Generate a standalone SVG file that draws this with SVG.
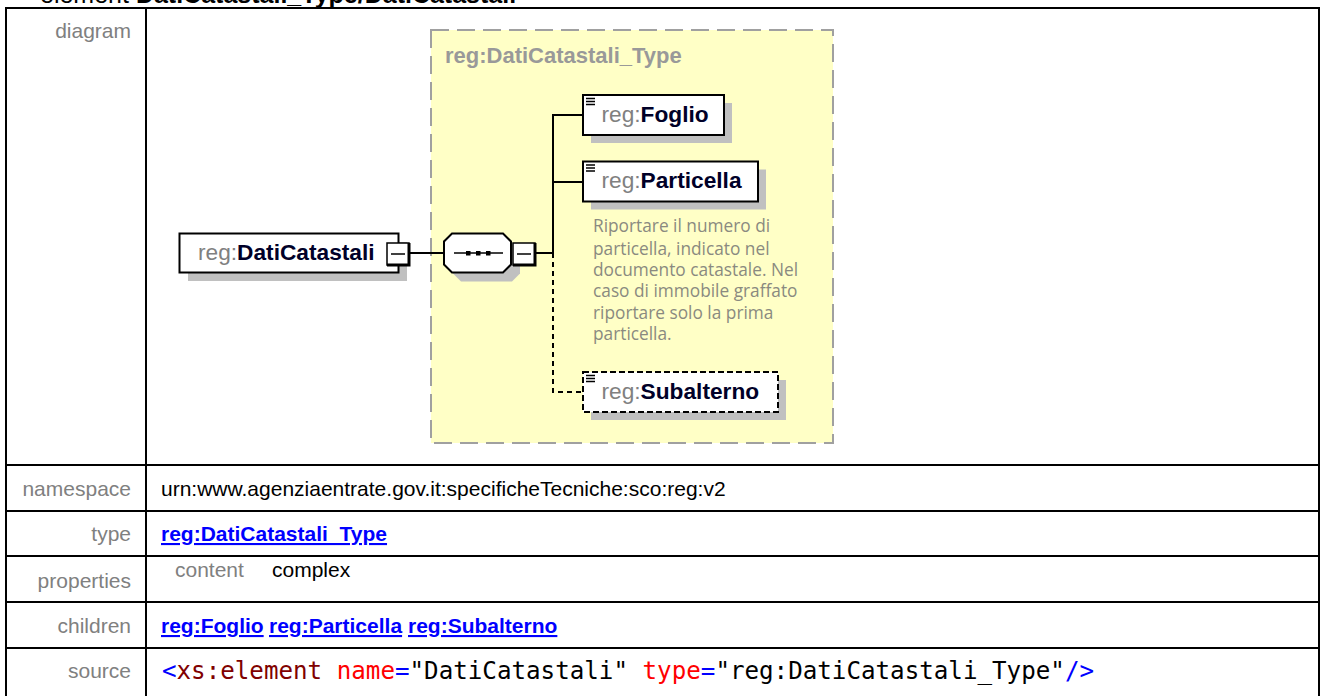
<svg xmlns="http://www.w3.org/2000/svg" width="1321" height="696" viewBox="0 0 1321 696">
<style>
.tbl{fill:none;stroke:#000;stroke-width:2}
.lbl{font-family:"Liberation Sans",Arial,sans-serif;font-size:21px;fill:#808080;text-anchor:end}
.val{font-family:"Liberation Sans",Arial,sans-serif;font-size:21px;fill:#000}
.lnk{font-family:"Liberation Sans",Arial,sans-serif;font-size:21px;font-weight:bold;fill:#0000FF;text-decoration:underline}
.src{font-family:"DejaVu Sans Mono","Liberation Mono",monospace;font-size:24.2px}
.box{fill:#fff;stroke:#000;stroke-width:2}
.shd{fill:#C0C0C0}
.ns{font-family:"Liberation Sans",Arial,sans-serif;font-size:22.7px;fill:#808080}
.nm{font-weight:bold;fill:#000028}
.con{fill:none;stroke:#000;stroke-width:2}
.dash{stroke-dasharray:5 4}
.doc{font-family:"Open Sans","Noto Sans",sans-serif;font-size:17.3px;fill:#8a8a80}
</style>

<!-- title (cut off at top) -->
<text x="40" y="3" font-family="Liberation Sans,Arial,sans-serif" font-size="25" fill="#000">element <tspan font-weight="bold">DatiCatastali_Type/DatiCatastali</tspan></text>

<!-- table -->
<g id="table">
<rect class="tbl" x="6" y="8" width="1313" height="700"/>
<line class="tbl" x1="146" y1="8" x2="146" y2="700"/>
<line class="tbl" x1="6" y1="465" x2="1319" y2="465"/>
<line class="tbl" x1="6" y1="511" x2="1319" y2="511"/>
<line class="tbl" x1="6" y1="556" x2="1319" y2="556"/>
<line class="tbl" x1="6" y1="602" x2="1319" y2="602"/>
<line class="tbl" x1="6" y1="648" x2="1319" y2="648"/>
<text class="lbl" x="131" y="38">diagram</text>
<text class="lbl" x="131" y="496">namespace</text>
<text class="lbl" x="131" y="541">type</text>
<text class="lbl" x="131" y="588">properties</text>
<text class="lbl" x="131" y="633">children</text>
<text class="lbl" x="131" y="678">source</text>
<text class="val" x="161" y="496">urn:www.agenziaentrate.gov.it:specificheTecniche:sco:reg:v2</text>
<text class="lnk" x="161" y="541">reg:DatiCatastali_Type</text>
<text class="val" x="175" y="577" style="fill:#808080">content</text>
<text class="val" x="272" y="577">complex</text>
<text class="lnk" x="161" y="633">reg:Foglio</text>
<text class="lnk" x="269" y="633">reg:Particella</text>
<text class="lnk" x="408" y="633">reg:Subalterno</text>
<text class="src" x="162" y="679"><tspan fill="#0000FF">&lt;</tspan><tspan fill="#800000">xs:element</tspan> <tspan fill="#FF0000">name</tspan><tspan fill="#0000FF">=</tspan><tspan fill="#000">"DatiCatastali"</tspan> <tspan fill="#FF0000">type</tspan><tspan fill="#0000FF">=</tspan><tspan fill="#000">"reg:DatiCatastali_Type"</tspan><tspan fill="#0000FF">/&gt;</tspan></text>
</g>

<!-- complex type container -->
<g id="type-DatiCatastali_Type">
<rect x="431" y="30" width="402" height="413" fill="#FFFFC6" stroke="#A0A0A0" stroke-width="2" stroke-dasharray="18 8"/>
<text x="445" y="63" font-family="Liberation Sans,Arial,sans-serif" font-size="22" font-weight="bold" fill="#999999">reg:DatiCatastali_Type</text>
</g>

<!-- connectors -->
<g id="connectors">
<line class="con" x1="409" y1="253" x2="444" y2="253"/>
<line class="con" x1="535" y1="253" x2="553" y2="253"/>
<polyline class="con" points="583,115 553,115 553,253"/>
<line class="con" x1="553" y1="182" x2="583" y2="182"/>
<polyline class="con dash" points="553,253 553,392 583,392"/>
</g>

<!-- root element -->
<g id="el-DatiCatastali">
<rect class="shd" x="188" y="242" width="219" height="39"/>
<rect class="box" x="179.5" y="233.5" width="219" height="39"/>
<text class="ns" x="198" y="260">reg:<tspan class="nm">DatiCatastali</tspan></text>
<rect x="387" y="243" width="22" height="22" fill="#fff" stroke="#000" stroke-width="1.5"/>
<polyline points="409,243 409,265 387,265" fill="none" stroke="#000" stroke-width="3"/>
<line x1="391" y1="254" x2="405" y2="254" stroke="#000" stroke-width="1.5"/>
</g>

<!-- sequence compositor -->
<g id="seq">
<polygon class="shd" points="461,242.5 512,242.5 520,250.5 520,273.5 512,281.5 461,281.5 453,273.5 453,250.5"/>
<polygon class="box" points="452,233.5 503,233.5 511,241.5 511,264.5 503,272.5 452,272.5 444,264.5 444,241.5"/>
<line x1="454" y1="253" x2="503" y2="253" stroke="#000" stroke-width="1.5"/>
<rect x="466" y="251" width="4.5" height="4.5" fill="#000"/>
<rect x="476" y="251" width="4.5" height="4.5" fill="#000"/>
<rect x="486" y="251" width="4.5" height="4.5" fill="#000"/>
<rect x="513" y="243" width="22" height="22" fill="#fff" stroke="#000" stroke-width="1.5"/>
<polyline points="535,243 535,265 513,265" fill="none" stroke="#000" stroke-width="3"/>
<line x1="517" y1="254" x2="531" y2="254" stroke="#000" stroke-width="1.5"/>
</g>

<!-- Foglio -->
<g id="el-Foglio">
<rect class="shd" x="591" y="103" width="141" height="40"/>
<rect class="box" x="583" y="95" width="141" height="40"/>
<path d="M586 98.5h9M586 101.5h9M586 104.5h9" stroke="#000" stroke-width="1.3"/>
<text class="ns" x="601.5" y="121.5">reg:<tspan class="nm">Foglio</tspan></text>
</g>

<!-- Particella -->
<g id="el-Particella">
<rect class="shd" x="591" y="169.5" width="175" height="40"/>
<rect class="box" x="583" y="161.5" width="175" height="40"/>
<path d="M586 165h9M586 168h9M586 171h9" stroke="#000" stroke-width="1.3"/>
<text class="ns" x="601.5" y="188">reg:<tspan class="nm">Particella</tspan></text>
<text class="doc" x="593" y="231.5">Riportare il numero di</text>
<text class="doc" x="593" y="254.5">particella, indicato nel</text>
<text class="doc" x="593" y="276">documento catastale. Nel</text>
<text class="doc" x="593" y="297">caso di immobile graffato</text>
<text class="doc" x="593" y="319">riportare solo la prima</text>
<text class="doc" x="593" y="340">particella.</text>
</g>

<!-- Subalterno (optional) -->
<g id="el-Subalterno">
<rect class="shd" x="591" y="380" width="195" height="40"/>
<rect class="box" x="583" y="372" width="195" height="40" stroke-dasharray="6 3"/>
<path d="M586 375.5h9M586 378.5h9M586 381.5h9" stroke="#000" stroke-width="1.3"/>
<text class="ns" x="601.5" y="398.5">reg:<tspan class="nm">Subalterno</tspan></text>
</g>
</svg>
